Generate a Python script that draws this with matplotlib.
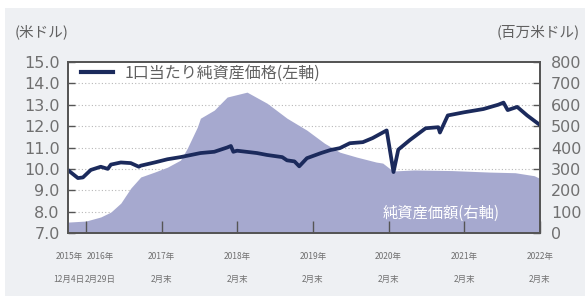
import matplotlib
matplotlib.use("Agg")
import matplotlib.pyplot as plt
import matplotlib.dates as mdates
from matplotlib.patches import Rectangle
from matplotlib.lines import Line2D
import pandas as pd

plt.rcParams['font.family'] = ['Noto Sans CJK JP', 'DejaVu Sans']

# ---- data ----
price_dates = ["2015-12-04", "2016-01-21", "2016-02-14", "2016-03-23", "2016-05-10",
               "2016-06-13", "2016-06-28", "2016-08-15", "2016-10-02", "2016-11-10",
               "2016-11-19", "2017-01-25", "2017-03-28", "2017-05-30", "2017-09-03",
               "2017-11-09", "2018-01-10", "2018-01-28", "2018-02-09", "2018-02-27",
               "2018-06-03", "2018-07-22", "2018-10-03", "2018-10-26", "2018-12-01",
               "2018-12-24", "2019-01-30", "2019-04-08", "2019-05-23", "2019-07-08",
               "2019-08-25", "2019-10-27", "2019-12-13", "2020-01-31", "2020-02-19",
               "2020-03-23", "2020-04-15", "2020-06-10", "2020-08-25", "2020-10-25",
               "2020-11-02", "2020-12-10", "2021-02-28", "2021-05-31", "2021-08-10",
               "2021-09-05", "2021-09-25", "2021-11-10", "2021-12-28", "2022-02-28"]
price_values = [9.94, 9.57, 9.60, 9.95, 10.10,
                10.00, 10.20, 10.30, 10.27, 10.10,
                10.15, 10.30, 10.45, 10.55, 10.74,
                10.80, 11.00, 11.07, 10.80, 10.85,
                10.74, 10.65, 10.55, 10.40, 10.35,
                10.12, 10.50, 10.74, 10.88, 10.97,
                11.20, 11.25, 11.44, 11.70, 11.80,
                9.85, 10.90, 11.35, 11.90, 11.95,
                11.70, 12.50, 12.65, 12.80, 13.00,
                13.10, 12.75, 12.90, 12.50, 12.05]

asset_dates = ["2015-12-04", "2016-02-29", "2016-05-10", "2016-06-28", "2016-08-15",
               "2016-10-02", "2016-11-19", "2017-01-25", "2017-03-28", "2017-05-30",
               "2017-07-02", "2017-08-19", "2017-09-03", "2017-11-09", "2018-01-10",
               "2018-04-16", "2018-07-22", "2018-10-26", "2019-01-30", "2019-04-25",
               "2019-07-08", "2019-09-28", "2019-12-30", "2020-01-31", "2020-03-20",
               "2020-06-30", "2020-12-31", "2021-06-30", "2021-10-31", "2022-01-31",
               "2022-02-28"]
asset_values = [51, 56, 75, 98, 140,
                210, 262, 285, 308, 341,
                397, 495, 537, 575, 636,
                659, 607, 537, 481, 420,
                378, 355, 332, 327, 290,
                295, 292, 285, 282, 268,
                255]

tick_dates = ["2015-12-04", "2016-02-29", "2017-02-28", "2018-02-28", "2019-02-28",
              "2020-02-28", "2021-02-28", "2022-02-28"]
tick_line1 = ["2015年", "2016年", "2017年", "2018年", "2019年", "2020年", "2021年", "2022年"]
tick_line2 = ["12月4日", "2月29日", "2月末", "2月末", "2月末", "2月末", "2月末", "2月末"]

left_ticks = [7.0, 8.0, 9.0, 10.0, 11.0, 12.0, 13.0, 14.0, 15.0]
right_ticks = [0, 100, 200, 300, 400, 500, 600, 700, 800]

legend_label = "1口当たり純資産価格(左軸)"
area_label = "純資産価額(右軸)"
left_unit = "(米ドル)"
right_unit = "(百万米ドル)"

# ---- figure ----
W, H = 585, 296
fig = plt.figure(figsize=(W / 100, H / 100), dpi=100, facecolor='white')
fig.patches.append(Rectangle((5 / W, 0), 580 / W, 288 / H, transform=fig.transFigure,
                             facecolor='#eef0f3', edgecolor='none', zorder=-10))

pos = [68 / W, 1 - 233 / H, 472 / W, 171 / H]
ax = fig.add_axes(pos)
ax2 = ax.twinx()
ax2.set_zorder(1)
ax.set_zorder(2)
ax.patch.set_visible(False)
ax2.patch.set_visible(True)
ax2.patch.set_facecolor('white')

pdates = pd.to_datetime(price_dates)
adates = pd.to_datetime(asset_dates)
tdates = pd.to_datetime(tick_dates)

area_color = '#a6a9cf'
line_color = '#1b2a5c'

ax2.fill_between(adates, asset_values, 0, color=area_color, lw=0, zorder=2)
for v in right_ticks[1:-1]:
    ax2.axhline(v, color='#b8b8b8', lw=0.8, ls=(0, (1, 2)), zorder=1)
ax.plot(pdates, price_values, color=line_color, lw=2.7, solid_joinstyle='round')

ax.set_xlim(tdates[0], tdates[-1])
ax.set_ylim(7.0, 15.0)
ax2.set_ylim(0, 800)

num_font = dict(family='DejaVu Sans', size=11.5, color='#707070')
ax.set_yticks(left_ticks)
ax.set_yticklabels([f"{v:.1f}" for v in left_ticks], fontdict=num_font)
ax2.set_yticks(right_ticks)
ax2.set_yticklabels([str(v) for v in right_ticks], fontdict=num_font)
ax.tick_params(axis='y', direction='in', length=5, width=1, color='#555555', pad=6)
ax2.tick_params(axis='y', direction='in', length=5, width=1, color='#555555', pad=8)

ax.set_xticks(tdates[1:])
ax.set_xticklabels([])
ax.tick_params(axis='x', direction='in', length=9, width=1, color='#555555')

for a in (ax, ax2):
    for s in a.spines.values():
        s.set_color('#555555')
        s.set_linewidth(1.3)

lab_font = dict(family=['Noto Sans CJK JP'], size=6.1, color='#707070')
offsets = [1, 14, 0, 0, 0, 0, 0, 0]
for d, l1, l2, dx in zip(tdates, tick_line1, tick_line2, offsets):
    x = mdates.date2num(d)
    ax.annotate(l1, xy=(x, 0), xycoords=('data', 'axes fraction'), xytext=(dx, -23),
                textcoords='offset pixels', ha='center', va='center', annotation_clip=False,
                **lab_font)
    ax.annotate(l2, xy=(x, 0), xycoords=('data', 'axes fraction'), xytext=(dx, -46),
                textcoords='offset pixels', ha='center', va='center', annotation_clip=False,
                **lab_font)

handle = Line2D([], [], color=line_color, lw=3)
leg = ax.legend([handle], [legend_label], loc='upper left',
                bbox_to_anchor=((81 - 68) / 472, 1 - 3 / 171), frameon=False,
                borderpad=0, borderaxespad=0, handlelength=2.0, handletextpad=0.75,
                prop={'family': 'Noto Sans CJK JP', 'size': 11.5})
for t in leg.get_texts():
    t.set_color('#606060')

ax.text((441 - 68) / 472, (233 - 213) / 171, area_label, transform=ax.transAxes,
        ha='center', va='center', color='white', fontsize=11)

fig.text(15 / W, 1 - 32 / H, left_unit, ha='left', va='center', fontsize=10.5, color='#606060')
fig.text(580 / W, 1 - 32 / H, right_unit, ha='right', va='center', fontsize=10.5, color='#606060')

fig.savefig('out.png', dpi=100, facecolor=fig.get_facecolor())
